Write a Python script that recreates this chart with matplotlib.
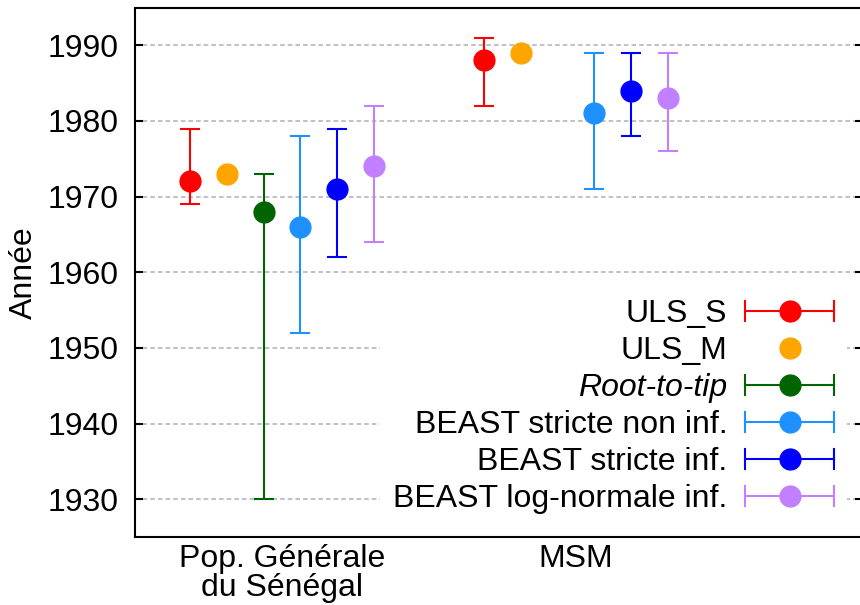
import numpy as np
import matplotlib
matplotlib.use('Agg')
import matplotlib.pyplot as plt
from matplotlib.lines import Line2D
from matplotlib.legend_handler import HandlerBase

plt.rcParams['font.family'] = ['Liberation Sans', 'DejaVu Sans']
plt.rcParams['font.size'] = 23

groups = ['Pop. Générale\ndu Sénégal', 'MSM']
series = ['ULS_S', 'ULS_M', 'Root-to-tip', 'BEAST stricte non inf.',
          'BEAST stricte inf.', 'BEAST log-normale inf.']
colors = ['#ff0000', '#ffa500', '#006400', '#1e90ff', '#0000ff', '#c080ff']

# value, lower bound, upper bound for each group (nan = absent)
mid = {
    'ULS_S': [1972, 1988],
    'ULS_M': [1973, 1989],
    'Root-to-tip': [1968, np.nan],
    'BEAST stricte non inf.': [1966, 1981],
    'BEAST stricte inf.': [1971, 1984],
    'BEAST log-normale inf.': [1974, 1983],
}
low = {
    'ULS_S': [1969, 1982],
    'ULS_M': [np.nan, np.nan],
    'Root-to-tip': [1930, np.nan],
    'BEAST stricte non inf.': [1952, 1971],
    'BEAST stricte inf.': [1962, 1978],
    'BEAST log-normale inf.': [1964, 1976],
}
high = {
    'ULS_S': [1979, 1991],
    'ULS_M': [np.nan, np.nan],
    'Root-to-tip': [1973, np.nan],
    'BEAST stricte non inf.': [1978, 1989],
    'BEAST stricte inf.': [1979, 1989],
    'BEAST log-normale inf.': [1982, 1989],
}


class HandlerHErr(HandlerBase):
    def __init__(self, with_bar=True):
        super().__init__()
        self.with_bar = with_bar

    def create_artists(self, legend, orig_handle, xdescent, ydescent,
                       width, height, fontsize, trans):
        c = orig_handle.get_color()
        y = height / 2 - ydescent
        x0, x1 = -xdescent, width - xdescent
        arts = []
        if self.with_bar:
            h = 7
            arts.append(Line2D([x0, x1], [y, y], color=c, lw=1.5, transform=trans))
            arts.append(Line2D([x0, x0], [y - h, y + h], color=c, lw=1.5, transform=trans))
            arts.append(Line2D([x1, x1], [y - h, y + h], color=c, lw=1.5, transform=trans))
        arts.append(Line2D([(x0 + x1) / 2], [y], marker='o', ms=15, color=c,
                           lw=0, transform=trans))
        return arts


fig = plt.figure(figsize=(8.6, 6.05), dpi=100)
ax = fig.add_axes([135 / 860, 68 / 605, (863 - 135) / 860, (537 - 7.5) / 605])

xc = np.array([1, 2])
handles = []
handler_map = {}
for i, s in enumerate(series):
    x = xc + (i - 2.5) * 0.125
    m = np.array(mid[s], dtype=float)
    lo = np.array(low[s], dtype=float)
    hi = np.array(high[s], dtype=float)
    if np.all(np.isnan(lo)):
        ax.plot(x, m, 'o', ms=15, color=colors[i], zorder=3)
    else:
        ax.errorbar(x, m, yerr=[m - lo, hi - m], fmt='o', ms=15, color=colors[i],
                    elinewidth=1.5, capsize=7, capthick=1.5, zorder=3)
    h = Line2D([], [], color=colors[i])
    handles.append(h)
    handler_map[h] = HandlerHErr(with_bar=not np.all(np.isnan(lo)))

ax.set_xlim(0.5, 0.5 + (863 - 135) / 294)
ax.set_ylim(1925, 1995)
ax.set_yticks(np.arange(1930, 1991, 10))
ax.set_xticks(xc)
ax.set_xticklabels(groups, linespacing=0.95)
ax.tick_params(axis='x', length=0, pad=5)
ax.tick_params(axis='y', direction='in', left=True, right=True, length=6, width=1.5, pad=12)
for sp in ax.spines.values():
    sp.set_linewidth(1.5)
ax.yaxis.grid(True, linestyle=(0, (3, 2)), color='#b0b0b0', lw=1.1)
ax.set_axisbelow(True)
ax.set_ylabel('Année', labelpad=6)

leg = ax.legend(handles, series, handler_map=handler_map, loc='lower right',
                bbox_to_anchor=(847 / 860, 1 - 527 / 605), bbox_transform=fig.transFigure,
                markerfirst=False, frameon=True, fancybox=False, framealpha=1,
                facecolor='white', edgecolor='none', borderpad=0.4, borderaxespad=0,
                handlelength=2.8, handletextpad=0.55, labelspacing=0.22)
for t in leg.get_texts():
    t.set_ha('right')
leg.get_texts()[2].set_fontstyle('italic')

fig.savefig('out.png', dpi=100)
